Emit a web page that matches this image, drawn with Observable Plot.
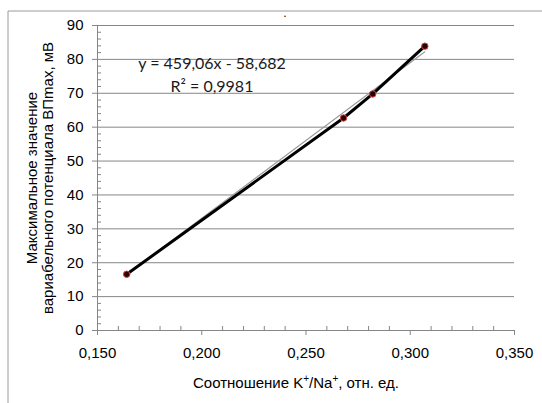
<!DOCTYPE html>
<html>
<head>
<meta charset="utf-8">
<script src="https://cdn.jsdelivr.net/npm/d3@7"></script>
<script src="https://cdn.jsdelivr.net/npm/@observablehq/plot@0.6"></script>
<style>
  html, body { margin: 0; padding: 0; background: #fff; }
  #chart { width: 542px; height: 403px; }
  #chart svg g[aria-label="x-axis tick label"],
  #chart svg g[aria-label="y-axis tick label"] { font-size: 15px !important; font-family: 'Liberation Sans', Arial, sans-serif; }
</style>
</head>
<body>
<div id="chart"></div>
<script>
// Data
const ratioKNa = [0.164, 0.268, 0.282, 0.307];
const vpMax = [16.6, 62.7, 69.8, 83.9];
const trendSlope = 459.06;
const trendIntercept = -58.682;
const equationText = "y = 459,06x - 58,682";
const r2Text = "R² = 0,9981";
const xTicks = [0.15, 0.2, 0.25, 0.3, 0.35];
const xMinorTicks = [0.16,0.17,0.18,0.19,0.21,0.22,0.23,0.24,0.26,0.27,0.28,0.29,0.31,0.32,0.33,0.34];
const yTicks = [0, 10, 20, 30, 40, 50, 60, 70, 80, 90];
const yMinorTicks = [2,4,6,8,12,14,16,18,22,24,26,28,32,34,36,38,42,44,46,48,52,54,56,58,62,64,66,68,72,74,76,78,82,84,86,88];
const yLabelLines = ["Максимальное значение", "вариабельного потенциала ВПmax, мВ"];

const data = ratioKNa.map((x, i) => ({x, y: vpMax[i]}));
const xMin = d3.min(ratioKNa), xMax = d3.max(ratioKNa);
const trend = [xMin, xMax].map(x => ({x, y: trendSlope * x + trendIntercept}));

const axisGray = "#868686";
const fmt = d => d.toFixed(3).replace(".", ",");

const plot = Plot.plot({
  width: 542,
  height: 403,
  marginLeft: 97,
  marginRight: 28,
  marginTop: 25,
  marginBottom: 73,
  style: {fontFamily: "'Liberation Sans', Arial, sans-serif", fontSize: "15px", background: "#fff", color: "#000"},
  x: {domain: [0.15, 0.35], label: null},
  y: {domain: [0, 90], label: null},
  marks: [
    Plot.gridY(yTicks.filter(d => d > 0), {stroke: axisGray, strokeOpacity: 1}),
    Plot.axisY(yMinorTicks, {tickSize: -4, tickFormat: () => "", stroke: axisGray}),
    Plot.axisY(yTicks, {tickSize: 5, tickPadding: 9, stroke: axisGray, fill: "#000", fontSize: 15}),
    Plot.axisX(xMinorTicks, {tickSize: -4, tickFormat: () => "", stroke: axisGray}),
    Plot.axisX(xTicks, {tickSize: 5, tickPadding: 12, tickFormat: fmt, stroke: axisGray, fill: "#000", fontSize: 15}),
    Plot.ruleY([0], {stroke: axisGray}),
    Plot.ruleX([0.15], {stroke: axisGray}),
    Plot.line(trend, {x: "x", y: "y", stroke: "#9a9a9a", strokeWidth: 1.1}),
    Plot.line(data, {x: "x", y: "y", stroke: "#000", strokeWidth: 3}),
    Plot.dot(data, {x: "x", y: "y", r: 3.2, fill: "#2a0000", stroke: "#d84040", strokeWidth: 1})
  ]
});

document.getElementById("chart").appendChild(plot);

const svg = d3.select(plot);
// frame lines
svg.append("line").attr("x1", 8).attr("x2", 542).attr("y1", 11).attr("y2", 11).attr("stroke", "#9a9a9a");
svg.append("line").attr("x1", 8).attr("x2", 8).attr("y1", 11).attr("y2", 403).attr("stroke", "#9a9a9a");
svg.append("text").attr("x", 285).attr("y", 17).attr("font-size", 12).attr("fill", "#000").attr("style", "fill:#000").text(".");

// Y label (two lines rotated)
const yl = svg.append("text")
  .attr("transform", "translate(41,178) rotate(-90)")
  .attr("text-anchor", "middle")
  .attr("font-family", "'Liberation Sans', Arial, sans-serif")
  .attr("font-size", 15)
  .attr("fill", "#000");
yl.append("tspan").attr("x", 0).attr("dy", "-0.3em").text(yLabelLines[0]);
yl.append("tspan").attr("x", 0).attr("dy", "1.1em").text(yLabelLines[1]);

// X label with superscripts
const xl = svg.append("text")
  .attr("x", 296).attr("y", 388)
  .attr("text-anchor", "middle")
  .attr("font-family", "'Liberation Sans', Arial, sans-serif")
  .attr("font-size", 15)
  .attr("fill", "#000");
xl.append("tspan").text("Соотношение K");
xl.append("tspan").attr("dy", -6).attr("font-size", 10).text("+");
xl.append("tspan").attr("dy", 6).text("/Na");
xl.append("tspan").attr("dy", -6).attr("font-size", 10).text("+");
xl.append("tspan").attr("dy", 6).text(", отн. ед.");

// Trendline equation
svg.append("text").attr("x", 212).attr("y", 69).attr("text-anchor", "middle")
  .attr("font-family", "Lato, 'Open Sans', sans-serif").attr("font-size", 16).attr("fill", "#1a1a1a")
  .text(equationText);
svg.append("text").attr("x", 212).attr("y", 92).attr("text-anchor", "middle")
  .attr("font-family", "Lato, 'Open Sans', sans-serif").attr("font-size", 16).attr("fill", "#1a1a1a")
  .text(r2Text);
</script>
</body>
</html>
